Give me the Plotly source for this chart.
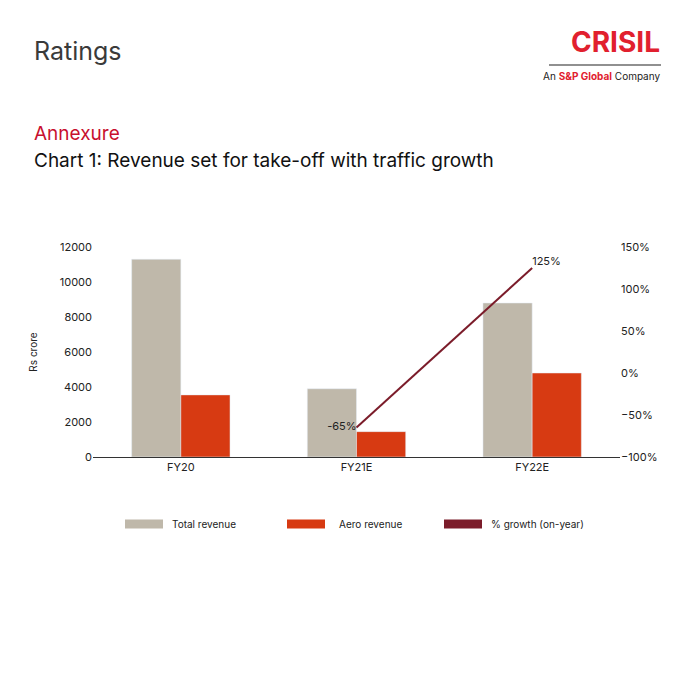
import plotly.graph_objects as go

categories = ["FY20", "FY21E", "FY22E"]
total_revenue = [11300, 3900, 8800]
aero_revenue = [3550, 1450, 4800]
growth_x = ["FY21E", "FY22E"]
growth_pct = [-65, 125]
growth_labels = ["-65%", "125%"]

GREY = "#bfb8aa"
ORANGE = "#d73a12"
MAROON = "#7b1c2a"
FONT = "Inter"

# plot area in pixels: x 85..612, y 239..449
def px(x):
    return (x - 85) / 527


def py(y):
    return (449 - y) / 210


fig = go.Figure()
fig.add_trace(go.Bar(x=categories, y=total_revenue, name="Total revenue",
                     marker_color=GREY, offsetgroup=0))
fig.add_trace(go.Bar(x=categories, y=aero_revenue, name="Aero revenue",
                     marker_color=ORANGE, offsetgroup=1))
fig.add_trace(go.Scatter(x=growth_x, y=growth_pct, name="% growth (on-year)",
                         mode="lines+text", yaxis="y2",
                         line=dict(color=MAROON, width=2),
                         text=growth_labels,
                         textposition=["middle left", "top right"],
                         textfont=dict(size=11, color="#222"),
                         cliponaxis=False))

fig.update_layout(
    width=680, height=680,
    margin=dict(l=85, r=68, t=239, b=231),
    paper_bgcolor="white", plot_bgcolor="white",
    font=dict(family=FONT, size=11, color="#222"),
    bargap=0.44, bargroupgap=0,
    showlegend=False,
    xaxis=dict(showline=True, linecolor="#333", linewidth=1, ticks="",
               tickfont=dict(size=11, color="#222")),
    yaxis=dict(range=[0, 12000], dtick=2000, tickformat="d", showgrid=False,
               zeroline=False,
               title=dict(text="Rs crore", font=dict(size=10), standoff=20),
               tickfont=dict(size=11)),
    yaxis2=dict(range=[-100, 150], dtick=50, overlaying="y", side="right",
                showgrid=False, zeroline=False, ticksuffix="%",
                tickfont=dict(size=11)),
)

# header texts
fig.add_annotation(text="Ratings", x=px(24), y=py(43), xref="paper", yref="paper",
                   xanchor="left", yanchor="middle", showarrow=False,
                   font=dict(size=25, color="#3a3a3a", family=FONT))
fig.add_annotation(text="<b>CRISIL</b>", x=px(654), y=py(34), xref="paper", yref="paper",
                   xanchor="right", yanchor="middle", showarrow=False,
                   font=dict(size=28, color="#e1202e", family=FONT))
fig.add_shape(type="line", xref="paper", yref="paper", x0=px(541), x1=px(653),
              y0=py(57), y1=py(57), line=dict(color="#222", width=1.2))
fig.add_annotation(text="An <span style='color:#e1202e'><b>S&P Global</b></span> Company",
                   x=px(654), y=py(68), xref="paper", yref="paper",
                   xanchor="right", yanchor="middle", showarrow=False,
                   font=dict(size=10, color="#222", family=FONT))
fig.add_annotation(text="Annexure", x=px(24), y=py(126), xref="paper", yref="paper",
                   xanchor="left", yanchor="middle", showarrow=False,
                   font=dict(size=19, color="#c8102e", family=FONT))
fig.add_annotation(text="Chart 1: Revenue set for take-off with traffic growth",
                   x=px(24), y=py(152), xref="paper", yref="paper",
                   xanchor="left", yanchor="middle", showarrow=False,
                   font=dict(size=19, color="#111", family=FONT))

# custom legend
legend_items = [("Total revenue", GREY, 117), ("Aero revenue", ORANGE, 279),
                ("% growth (on-year)", MAROON, 436)]
for name, color, x0 in legend_items:
    fig.add_shape(type="line", xref="paper", yref="paper", x0=px(x0), x1=px(x0 + 38),
                  y0=py(516), y1=py(516), line=dict(color=color, width=9))
    fig.add_annotation(text=name, x=px(x0 + 45 if x0 != 279 else x0 + 50), y=py(516),
                       xref="paper", yref="paper",
                       xanchor="left", yanchor="middle", showarrow=False,
                       font=dict(size=10, color="#222", family=FONT))

fig.write_html("out.html")
